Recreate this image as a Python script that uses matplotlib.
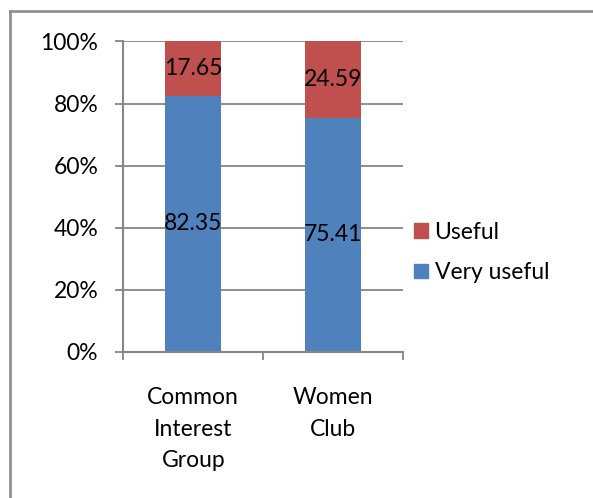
import matplotlib
matplotlib.use("Agg")
import matplotlib.pyplot as plt
from matplotlib.lines import Line2D
from matplotlib.patches import Patch

categories = ["Common\nInterest\nGroup", "Women\nClub"]
very_useful = [82.35, 75.41]
useful = [17.65, 24.59]
y_ticks = [0, 20, 40, 60, 80, 100]
y_tick_labels = ["0%", "20%", "40%", "60%", "80%", "100%"]

BLUE = "#4F81BD"
RED = "#C0504D"
GRID = "#868686"
FONT = "Lato"
FS = 16.5

plt.rcParams["font.family"] = [FONT, "DejaVu Sans"]

fig = plt.figure(figsize=(5.93, 4.98), dpi=100)
fig.patch.set_facecolor("white")

# chart-area frame (left and top edges)
fig.add_artist(Line2D([9.5 / 593, 9.5 / 593], [0, 1 - 11.5 / 498],
                      transform=fig.transFigure, color="#8C8C8C", lw=1.9))
fig.add_artist(Line2D([9.5 / 593, 1], [1 - 11.5 / 498, 1 - 11.5 / 498],
                      transform=fig.transFigure, color="#8C8C8C", lw=1.9))

ax = fig.add_axes([123.3 / 593, 1 - 351.7 / 498, 280 / 593, 310.2 / 498])

x = list(range(len(categories)))
ax.bar(x, very_useful, width=0.4, color=BLUE, zorder=2, label="Very useful")
ax.bar(x, useful, width=0.4, bottom=very_useful, color=RED, zorder=2, label="Useful")

for i in x:
    ax.text(i, very_useful[i] / 2, f"{very_useful[i]:.2f}", ha="center", va="center",
            fontsize=FS, color="black", zorder=3)
    ax.text(i, very_useful[i] + useful[i] / 2, f"{useful[i]:.2f}", ha="center",
            va="center", fontsize=FS, color="black", zorder=3)

ax.set_xlim(-0.5, len(categories) - 0.5)
ax.set_ylim(0, 100)

ax.set_yticks(y_ticks)
ax.set_yticklabels(y_tick_labels, fontsize=FS)
ax.yaxis.grid(True, color=GRID, lw=1.3, zorder=0)
ax.set_axisbelow(True)

ax.set_xticks([-0.5 + k for k in range(len(categories) + 1)])
ax.set_xticklabels([])
ax.set_xticks(x, minor=True)
ax.set_xticklabels(categories, minor=True, fontsize=FS, linespacing=1.62)
ax.tick_params(axis="x", which="minor", length=0, pad=25.5)
ax.tick_params(axis="x", which="major", length=6, width=1.3, color=GRID, direction="out")
ax.tick_params(axis="y", length=6, width=1.3, color=GRID, direction="out", pad=12)

for side in ("top", "right"):
    ax.spines[side].set_visible(False)
for side in ("left", "bottom"):
    ax.spines[side].set_color(GRID)
    ax.spines[side].set_linewidth(1.5)

handles = [Patch(color=RED, label="Useful"), Patch(color=BLUE, label="Very useful")]
fig.legend(handles=handles, loc="center left", bbox_to_anchor=(414 / 593, 1 - 252.5 / 498),
           frameon=False, fontsize=FS, handlelength=0.6, handleheight=0.6,
           handletextpad=0.3, labelspacing=0.85, borderpad=0, borderaxespad=0)

fig.savefig("out.png", dpi=100, facecolor="white")
